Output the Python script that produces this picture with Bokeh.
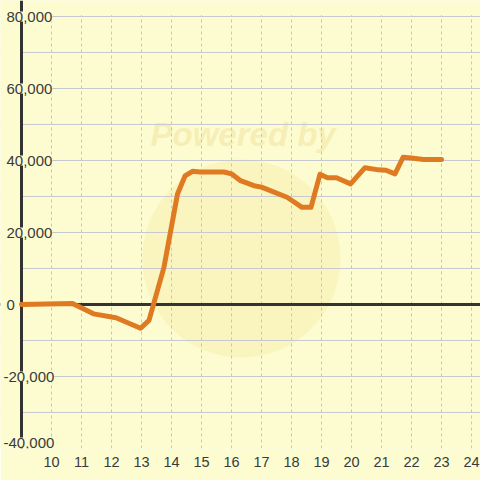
from bokeh.plotting import figure
from bokeh.models import Span, LabelSet, ColumnDataSource, FixedTicker, Range1d, BoxAnnotation
from bokeh.core.properties import value
from bokeh.embed import file_html
from bokeh.resources import INLINE

# ---- data ----
xs = [9.0, 10.7, 11.4, 12.15, 12.97, 13.25, 13.75, 14.2, 14.45, 14.7, 14.95,
      15.75, 16.0, 16.3, 16.75, 17.0, 17.85, 18.1, 18.35, 18.65, 18.95, 19.2,
      19.5, 19.97, 20.45, 20.9, 21.15, 21.45, 21.72, 22.0, 22.4, 23.0]
ys = [0, 300, -2600, -3700, -6600, -4400, 10400, 30700, 35700, 37000, 36800,
      36800, 36300, 34400, 33000, 32600, 29800, 28400, 27000, 27000, 36200, 35200,
      35200, 33500, 38000, 37400, 37300, 36300, 40900, 40700, 40300, 40300]
x_ticks = list(range(10, 25))
y_grid = list(range(-40000, 80001, 10000))
y_label_vals = list(range(-40000, 80001, 20000))

BG = "#FCFCD0"
TXT = "#3a3a3a"
FONT = "Liberation Sans"

X0 = 9.0                    # y axis position
PXX = 30.0                  # px per x unit
PXY = 72.0 / 20000          # px per y unit
x_start = X0 - 21 / PXX
x_end = x_start + 480 / PXX
y_top = 80000 + 16 / PXY

p = figure(width=480, height=480,
           x_range=Range1d(x_start, x_end), y_range=Range1d(-40000, y_top),
           output_backend="svg", toolbar_location=None,
           min_border_left=0, min_border_right=0, min_border_top=0, min_border_bottom=32,
           background_fill_color=BG, border_fill_color=BG, outline_line_color=None)

# grids
p.xgrid.ticker = FixedTicker(ticks=x_ticks)
p.xgrid.grid_line_color = "#c4c4cc"
p.xgrid.grid_line_dash = "3 3"
p.xgrid.grid_line_width = 1
p.ygrid.ticker = FixedTicker(ticks=y_grid)
p.ygrid.grid_line_color = "#c8c8d0"
p.ygrid.grid_line_width = 1

# axes
p.yaxis.visible = False
p.xaxis.ticker = FixedTicker(ticks=x_ticks)
p.xaxis.axis_line_color = None
p.xaxis.major_tick_line_color = None
p.xaxis.minor_tick_line_color = None
p.xaxis.major_label_standoff = 2
p.xaxis.major_label_text_font = FONT
p.xaxis.major_label_text_font_size = "14.5px"
p.xaxis.major_label_text_color = TXT

# watermark
wm = p.scatter(x=[16.33], y=[12780], size=198, marker="circle",
               fill_color="#F7E9A8", fill_alpha=0.42, line_color=None)
wm.level = "image"
wt = p.text(x=[13.3], y=[47300], text=["Powered by"], text_font=value(FONT),
            text_font_style="bold italic", text_font_size="33px",
            text_color="#F2E6A4", text_alpha=0.6, text_baseline="middle")
wt.level = "image"

# zero line, then masks outside the plotting area, then the y axis line
p.add_layout(Span(location=0, dimension="width", line_color="#333333",
                  line_width=3, level="underlay"))
p.add_layout(BoxAnnotation(right=X0, fill_color=BG, fill_alpha=1, line_color=None,
                           level="underlay"))
p.add_layout(BoxAnnotation(bottom=80000 + 1.2 / PXY, fill_color=BG, fill_alpha=1,
                           line_color=None, level="underlay"))
p.add_layout(Span(location=X0, dimension="height", line_color="#333333",
                  line_width=3, level="underlay"))

# data line
p.line(xs, ys, line_color="#E07A22", line_width=5, line_join="round", line_cap="round")

# y labels (inside the plot, over the axis line)
lab_src = ColumnDataSource(dict(
    y=y_label_vals,
    text=[f"{v:,}" for v in y_label_vals],
    xoff=[3 if v < 0 else 6 for v in y_label_vals],
    yoff=[6 if v == min(y_label_vals) else 0 for v in y_label_vals],
))
p.add_layout(LabelSet(x=x_start, y="y", text="text", source=lab_src, x_offset="xoff",
                      y_offset="yoff", text_align="left", text_baseline="middle",
                      text_font=value(FONT), text_font_size=value("15px"),
                      text_color=value(TXT),
                      background_fill_color=value(BG), background_fill_alpha=1.0))

open("out.html", "w").write(file_html(p, INLINE))
